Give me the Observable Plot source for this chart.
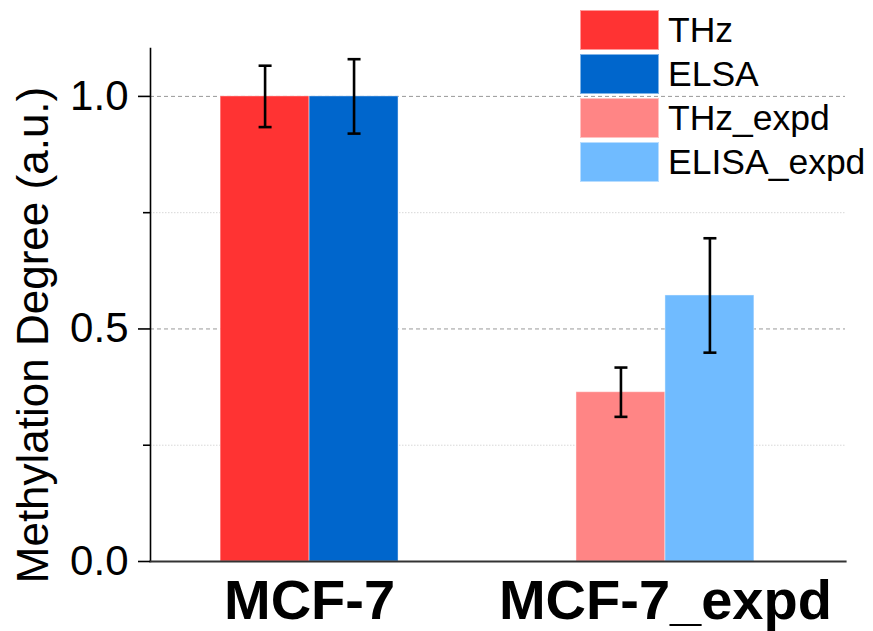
<!DOCTYPE html>
<html>
<head>
<meta charset="utf-8">
<script src="https://cdn.jsdelivr.net/npm/d3@7"></script>
<script src="https://cdn.jsdelivr.net/npm/@observablehq/plot@0.6"></script>
<style>
  html, body { margin: 0; padding: 0; background: #fff; }
  #wrap { position: relative; width: 873px; height: 631px; font-family: "Liberation Sans", Arial, sans-serif; }
  #legend { position: absolute; left: 580px; top: 8px; }
  .item { display: flex; align-items: center; height: 44px; }
  .sw { width: 79px; height: 40px; box-sizing: border-box; border: 1px solid rgba(255,255,255,0.5); }
  .lab { margin-left: 9px; font-size: 35.5px; color: #000; line-height: 40px; }
</style>
</head>
<body>
<div id="wrap"><div id="chart"></div><div id="legend"></div></div>
<script>
// ---- data ----
const groups = ["MCF-7", "MCF-7_expd"];
const series = ["THz", "ELSA", "THz_expd", "ELISA_expd"];
const colors = ["#FF3333", "#0066CC", "#FF8585", "#70BBFF"];
const barGroup = ["MCF-7", "MCF-7", "MCF-7_expd", "MCF-7_expd"];
const barOffset = [-0.125, 0.125, -0.125, 0.125];
const values = [1.0, 1.0, 0.364, 0.572];
const errors = [0.066, 0.080, 0.053, 0.123];
const yTicks = [0, 0.5, 1.0];
const yMinorTicks = [0.25, 0.75];
const yLabel = "Methylation Degree (a.u.)";

const barWidth = 0.25;
const rows = series.map((s, i) => {
  const c = groups.indexOf(barGroup[i]) + barOffset[i];
  return { series: s, center: c, x1: c - barWidth / 2, x2: c + barWidth / 2,
           value: values[i], lo: values[i] - errors[i], hi: values[i] + errors[i] };
});

const capSymbol = {
  draw(ctx, size) {
    const w = Math.sqrt(size / Math.PI);
    ctx.moveTo(-w, 0);
    ctx.lineTo(w, 0);
  }
};

const font = "'Liberation Sans', Arial, sans-serif";

const chart = Plot.plot({
  width: 873,
  height: 631,
  marginLeft: 150,
  marginRight: 28,
  marginTop: 48,
  marginBottom: 70,
  style: { fontFamily: font, background: "white", color: "black" },
  x: { type: "linear", domain: [-0.447, 1.506], axis: null },
  y: { domain: [0, 1.103], axis: null },
  color: { domain: series, range: colors },
  marks: [
    Plot.ruleY(yMinorTicks, { stroke: "#d8d8d8", strokeWidth: 1, strokeDasharray: "1.5,1.5" }),
    Plot.ruleY(yTicks.filter(d => d > 0), { stroke: "#999", strokeWidth: 1, strokeDasharray: "4,3" }),
    Plot.rectY(rows, { x1: "x1", x2: "x2", y1: 0, y2: "value", fill: "series",
                        stroke: "white", strokeOpacity: 0.45, strokeWidth: 1 }),
    Plot.ruleX(rows, { x: "center", y1: "lo", y2: "hi", stroke: "black", strokeWidth: 2.6 }),
    Plot.dot(rows, { x: "center", y: "lo", symbol: capSymbol, r: 6.5, stroke: "black", strokeWidth: 2.6, fill: "none" }),
    Plot.dot(rows, { x: "center", y: "hi", symbol: capSymbol, r: 6.5, stroke: "black", strokeWidth: 2.6, fill: "none" }),
    Plot.frame({ anchor: "left", stroke: "black", strokeWidth: 1.6 }),
    Plot.frame({ anchor: "bottom", stroke: "#333", strokeWidth: 2.2 }),
    Plot.axisY({ ticks: yTicks, tickFormat: d3.format(".1f"), tickSize: 12, tickPadding: 10,
                 fontSize: 42, strokeWidth: 1.6, label: null }),
    Plot.axisY({ ticks: yMinorTicks, tickFormat: () => "", tickSize: 7, strokeWidth: 1.6, label: null }),
    Plot.axisX({ ticks: [0, 1], tickFormat: i => groups[i], tickSize: 0, tickPadding: 18,
                 fontSize: 56, fontWeight: "bold", label: null }),
    Plot.text([yLabel], { frameAnchor: "left", text: d => d, rotate: -90, textAnchor: "middle",
                          dx: -117, dy: 30, fontSize: 44, fill: "black" })
  ]
});
document.getElementById("chart").appendChild(chart);

const legend = document.getElementById("legend");
series.forEach((s, i) => {
  const item = document.createElement("div");
  item.className = "item";
  const sw = document.createElement("div");
  sw.className = "sw";
  sw.style.background = colors[i];
  const lab = document.createElement("span");
  lab.className = "lab";
  lab.textContent = s;
  item.appendChild(sw);
  item.appendChild(lab);
  legend.appendChild(item);
});
</script>
</body>
</html>
